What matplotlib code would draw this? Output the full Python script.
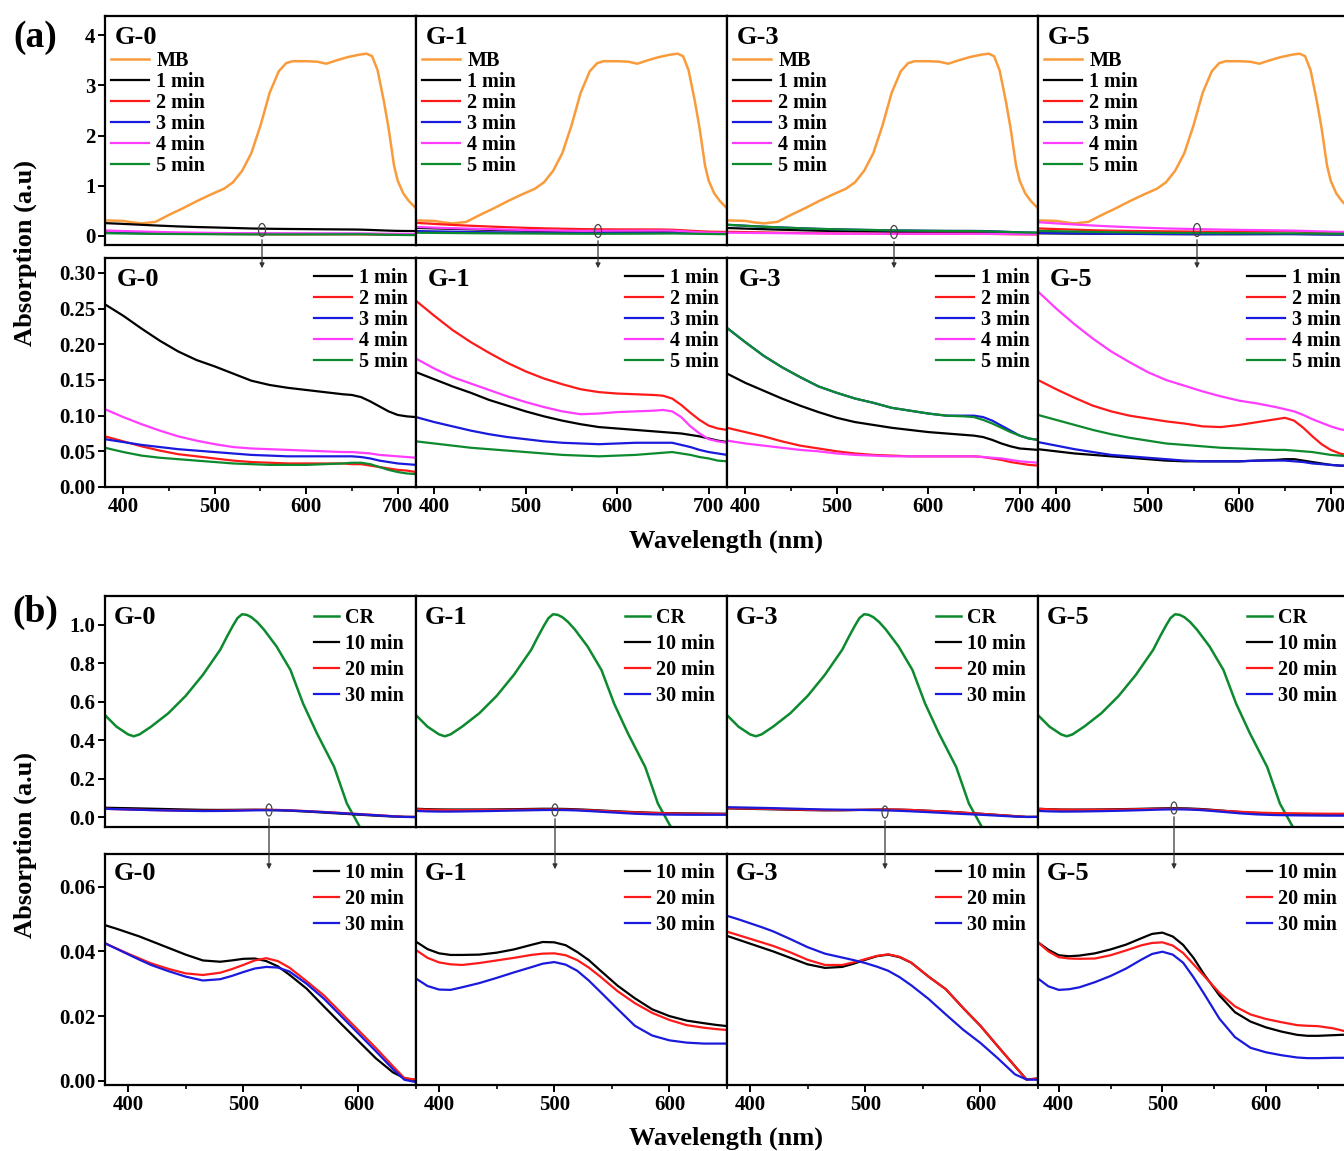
import matplotlib.pyplot as plt
from matplotlib.patches import Ellipse
from matplotlib.ticker import FormatStrFormatter

plt.rcParams['font.family'] = 'Liberation Serif'
plt.rcParams['font.weight'] = 'bold'

# ---------------- data (a): MB degradation ----------------
samples = ['G-0', 'G-1', 'G-3', 'G-5']
a_labels = ['1 min', '2 min', '3 min', '4 min', '5 min']
b_labels = ['10 min', '20 min', '30 min']

wl_mb = [380, 400, 410, 420, 435, 450, 465, 480, 495, 510, 520, 530, 540, 550, 560, 570, 578, 585,
         600, 612, 622, 632, 645, 658, 666, 672, 678, 685, 690, 696, 700, 706, 712, 720]
mb = [0.31, 0.30, 0.27, 0.25, 0.28, 0.42, 0.55, 0.69, 0.82, 0.94, 1.07, 1.30, 1.65, 2.20, 2.85, 3.28, 3.44, 3.48,
      3.48, 3.47, 3.43, 3.49, 3.56, 3.61, 3.63, 3.58, 3.30, 2.67, 2.15, 1.40, 1.10, 0.85, 0.70, 0.55]

wl_a = [380, 400, 420, 440, 460, 480, 500, 520, 540, 560, 580, 600, 620, 640, 650, 660, 670, 680, 690, 700, 710, 720]

a_g0 = [
    [.256, .240, .222, .205, .190, .178, .169, .159, .149, .143, .139, .136, .133, .130, .129, .126, .120, .113, .106, .101, .099, .098],
    [.071, .064, .057, .051, .046, .043, .040, .037, .035, .034, .033, .033, .033, .033, .032, .032, .030, .028, .026, .024, .023, .021],
    [.067, .063, .059, .056, .053, .051, .049, .047, .045, .044, .043, .043, .043, .043, .043, .042, .040, .037, .035, .033, .032, .031],
    [.109, .098, .088, .079, .071, .065, .060, .056, .054, .053, .052, .051, .050, .049, .049, .048, .047, .045, .044, .043, .042, .041],
    [.055, .049, .044, .041, .039, .037, .035, .033, .032, .031, .031, .031, .032, .033, .034, .034, .032, .028, .024, .021, .019, .018],
]
a_g1 = [
    [.161, .151, .141, .132, .122, .114, .106, .099, .093, .088, .084, .082, .080, .078, .077, .076, .075, .073, .071, .068, .065, .063],
    [.261, .240, .220, .203, .188, .174, .162, .152, .144, .137, .133, .131, .130, .129, .128, .124, .115, .104, .094, .086, .082, .080],
    [.098, .091, .085, .079, .074, .070, .067, .064, .062, .061, .060, .061, .062, .062, .062, .062, .059, .056, .052, .049, .047, .045],
    [.180, .166, .154, .145, .136, .127, .119, .112, .106, .102, .103, .105, .106, .107, .108, .106, .098, .085, .075, .067, .064, .062],
    [.064, .061, .058, .055, .053, .051, .049, .047, .045, .044, .043, .044, .045, .047, .048, .049, .047, .045, .042, .040, .037, .036],
]
a_g3 = [
    [.159, .146, .135, .124, .114, .105, .097, .091, .087, .083, .080, .077, .075, .073, .072, .070, .066, .061, .057, .054, .053, .052],
    [.083, .077, .071, .064, .058, .054, .050, .047, .045, .044, .043, .043, .043, .043, .043, .042, .040, .038, .035, .033, .031, .030],
    [.223, .203, .184, .168, .154, .141, .132, .124, .118, .111, .107, .103, .100, .100, .100, .098, .093, .086, .079, .072, .068, .066],
    [.065, .061, .058, .055, .052, .050, .047, .045, .044, .043, .043, .043, .043, .043, .043, .042, .041, .040, .038, .036, .035, .034],
    [.223, .203, .184, .168, .154, .141, .132, .124, .118, .111, .107, .103, .100, .099, .098, .094, .089, .083, .077, .072, .068, .066],
]
a_g5 = [
    [.053, .050, .047, .045, .043, .041, .039, .037, .036, .036, .036, .036, .037, .038, .039, .039, .037, .035, .033, .031, .030, .030],
    [.150, .137, .125, .114, .106, .100, .096, .092, .089, .085, .084, .087, .091, .095, .097, .093, .083, .071, .060, .052, .047, .044],
    [.063, .058, .053, .049, .045, .043, .041, .039, .037, .036, .036, .036, .037, .037, .037, .036, .035, .033, .032, .031, .030, .029],
    [.274, .250, .228, .208, .190, .175, .161, .150, .142, .134, .127, .121, .117, .112, .109, .106, .101, .095, .090, .085, .081, .079],
    [.101, .094, .087, .080, .074, .069, .065, .061, .059, .057, .055, .054, .053, .052, .052, .051, .050, .049, .047, .045, .044, .043],
]

# ---------------- data (b): CR degradation ----------------
wl_cr = [380, 390, 400, 405, 410, 420, 435, 450, 465, 480, 486, 491, 495, 499, 503, 507, 512, 518, 529, 541, 552,
         564, 579, 590, 602]
cr = [0.53, 0.47, 0.43, 0.42, 0.43, 0.47, 0.54, 0.63, 0.74, 0.87, 0.94, 0.995, 1.035, 1.055, 1.052, 1.04, 1.015,
      0.975, 0.887, 0.765, 0.59, 0.435, 0.26, 0.07, -0.06]

wl_b = [380, 390, 400, 410, 420, 435, 450, 465, 480, 490, 500, 510, 520, 530, 540, 555, 570, 585, 600, 615, 630, 640, 650]
wl_b5 = wl_b + [665, 680]

b_g0 = [
    [.0481, .0470, .0458, .0446, .0432, .0411, .0390, .0372, .0368, .0372, .0377, .0378, .0370, .0354, .0328, .0285, .0230, .0176, .0123, .0070, .0026, .0008, .0002],
    [.0425, .0409, .0393, .0378, .0363, .0346, .0332, .0327, .0334, .0345, .0358, .0372, .0379, .0370, .0350, .0308, .0264, .0210, .0156, .0102, .0045, .0008, .0004],
    [.0425, .0408, .0391, .0374, .0358, .0339, .0322, .0310, .0314, .0324, .0336, .0347, .0352, .0350, .0338, .0300, .0254, .0200, .0146, .0092, .0036, .0003, -.0004],
]
b_g1 = [
    [.0430, .0407, .0394, .0389, .0389, .0390, .0396, .0406, .0420, .0429, .0428, .0419, .0398, .0373, .0341, .0294, .0255, .0221, .0200, .0186, .0178, .0173, .0169],
    [.0404, .0380, .0366, .0360, .0358, .0364, .0372, .0380, .0389, .0393, .0394, .0388, .0373, .0350, .0322, .0277, .0240, .0210, .0188, .0172, .0164, .0160, .0157],
    [.0316, .0293, .0282, .0281, .0289, .0302, .0318, .0335, .0351, .0362, .0367, .0359, .0340, .0310, .0275, .0222, .0170, .0140, .0125, .0118, .0115, .0115, .0115],
]
b_g3 = [
    [.0448, .0436, .0424, .0412, .0400, .0380, .0360, .0349, .0352, .0362, .0374, .0385, .0390, .0382, .0365, .0322, .0283, .0225, .0170, .0107, .0045, .0004, .0007],
    [.0461, .0450, .0439, .0428, .0417, .0397, .0374, .0358, .0358, .0366, .0376, .0386, .0391, .0383, .0365, .0322, .0283, .0225, .0170, .0107, .0045, .0004, .0007],
    [.0510, .0499, .0487, .0475, .0462, .0438, .0413, .0393, .0381, .0373, .0364, .0353, .0340, .0320, .0295, .0253, .0205, .0158, .0117, .0070, .0020, .0004, .0003],
]
b_g5 = [
    [.0428, .0405, .0388, .0385, .0387, .0394, .0406, .0421, .0441, .0454, .0458, .0446, .0420, .0380, .0330, .0264, .0212, .0183, .0165, .0152, .0142, .0139, .0139, .0141, .0143],
    [.0428, .0400, .0382, .0378, .0377, .0378, .0388, .0403, .0419, .0426, .0428, .0418, .0395, .0360, .0325, .0272, .0230, .0205, .0191, .0181, .0172, .0170, .0169, .0162, .0150],
    [.0316, .0292, .0281, .0283, .0289, .0305, .0324, .0347, .0375, .0392, .0399, .0390, .0365, .0320, .0270, .0192, .0135, .0102, .0088, .0079, .0072, .0070, .0070, .0071, .0071],
]

a_data = [a_g0, a_g1, a_g3, a_g5]
b_data = [b_g0, b_g1, b_g3, b_g5]
b_wls = [wl_b, wl_b, wl_b, wl_b5]

a_colors = ['black', '#ff1a1a', '#1a1adc', '#ff3cff', '#0d8a2e']
b_colors = ['black', '#ff1a1a', '#1a1adc']
mb_color = '#f99b3b'
cr_color = '#0d8a2e'

W, H = 1344, 1151
fig = plt.figure(figsize=(W / 100, H / 100), dpi=100)

cols = [105, 416, 727, 1038, 1349]
rows = [(16, 245), (258, 487), (596, 827), (854, 1085)]


def add_ax(l, t, r, b):
    return fig.add_axes([l / W, 1 - b / H, (r - l) / W, (b - t) / H])


def style(ax, col, xticks, xlim):
    for s in ax.spines.values():
        s.set_linewidth(1.6)
    ax.tick_params(direction='out', length=5, width=1.4, labelsize=15, pad=2)
    ax.tick_params(which='minor', direction='out', length=3, width=1.2)
    if col > 0:
        ax.tick_params(axis='y', left=False, labelleft=False)
    if not xticks:
        ax.tick_params(axis='x', bottom=False, labelbottom=False)
    else:
        ax.set_xticks([400, 500, 600, 700])
        ax.set_xticks([450, 550, 650], minor=True)
    ax.set_xlim(*xlim)


def rel(ax_px, dx, dy):
    l, t, r, b = ax_px
    return dx / (r - l), 1 - dy / (b - t)


leg_font = {'weight': 'bold', 'size': 14.5}

for j, name in enumerate(samples):
    l, r = cols[j], cols[j + 1]

    # (a) full spectra
    t, b = rows[0]
    ax = add_ax(l, t, r, b)
    ax.plot(wl_mb, mb, color=mb_color, lw=1.8, label='MB')
    for k in range(5):
        ax.plot(wl_a, a_data[j][k], color=a_colors[k], lw=1.6, label=a_labels[k])
    ax.set_ylim(-0.18, 4.38)
    ax.set_yticks([0, 1, 2, 3, 4])
    style(ax, j, False, (380, 720))
    ax.text(*rel((l, t, r, b), 10, 10), name, transform=ax.transAxes, fontsize=19, va='top', ha='left')
    ax.legend(loc='upper left', bbox_to_anchor=rel((l, t, r, b), 6, 35), prop=leg_font, frameon=False,
              handlelength=1.9, handletextpad=0.35, labelspacing=0.05, borderpad=0, borderaxespad=0)

    # (a) zoomed spectra
    t, b = rows[1]
    ax = add_ax(l, t, r, b)
    for k in range(5):
        ax.plot(wl_a, a_data[j][k], color=a_colors[k], lw=1.6, label=a_labels[k])
    ax.set_ylim(0, 0.321)
    ax.set_yticks([0, 0.05, 0.10, 0.15, 0.20, 0.25, 0.30])
    ax.yaxis.set_major_formatter(FormatStrFormatter('%.2f'))
    style(ax, j, True, (380, 720))
    ax.text(*rel((l, t, r, b), 12, 10), name, transform=ax.transAxes, fontsize=19, va='top', ha='left')
    ax.legend(loc='upper right', bbox_to_anchor=rel((l, t, r, b), 311 - 8, 10), prop=leg_font, frameon=False,
              handlelength=1.9, handletextpad=0.35, labelspacing=0.05, borderpad=0, borderaxespad=0)

    # (b) full spectra
    t, b = rows[2]
    ax = add_ax(l, t, r, b)
    ax.plot(wl_cr, cr, color=cr_color, lw=1.8, label='CR')
    for k in range(3):
        ax.plot(b_wls[j], b_data[j][k], color=b_colors[k], lw=1.6, label=b_labels[k])
    ax.set_ylim(-0.052, 1.15)
    ax.set_yticks([0, 0.2, 0.4, 0.6, 0.8, 1.0])
    ax.yaxis.set_major_formatter(FormatStrFormatter('%.1f'))
    style(ax, j, False, (380, 650))
    ax.text(*rel((l, t, r, b), 9, 10), name, transform=ax.transAxes, fontsize=19, va='top', ha='left')
    ax.legend(loc='upper right', bbox_to_anchor=rel((l, t, r, b), 311 - 12, 12), prop=leg_font, frameon=False,
              handlelength=1.25, handletextpad=0.3, labelspacing=0.3, borderpad=0, borderaxespad=0)

    # (b) zoomed spectra
    t, b = rows[3]
    ax = add_ax(l, t, r, b)
    for k in range(3):
        ax.plot(b_wls[j], b_data[j][k], color=b_colors[k], lw=1.6, label=b_labels[k])
    ax.set_ylim(-0.0013, 0.0701)
    ax.set_yticks([0, 0.02, 0.04, 0.06])
    ax.yaxis.set_major_formatter(FormatStrFormatter('%.2f'))
    style(ax, j, True, (380, 680) if j == 3 else (380, 650))
    ax.text(*rel((l, t, r, b), 9, 8), name, transform=ax.transAxes, fontsize=19, va='top', ha='left')
    ax.legend(loc='upper right', bbox_to_anchor=rel((l, t, r, b), 311 - 12, 9), prop=leg_font, frameon=False,
              handlelength=1.25, handletextpad=0.3, labelspacing=0.3, borderpad=0, borderaxespad=0)

# overlay in pixel coordinates for labels, markers and arrows
ov = fig.add_axes([0, 0, 1, 1], zorder=10)
ov.set_xlim(0, W)
ov.set_ylim(H, 0)
ov.axis('off')
ov.patch.set_alpha(0)

for x, y in [(262, 230), (598, 231), (894, 232), (1197, 230)]:
    ov.add_patch(Ellipse((x, y), 7, 13, fill=False, ec='#444444', lw=0.9))
    ov.annotate('', xy=(x, 271), xytext=(x, y + 7),
                arrowprops=dict(arrowstyle='-|>', color='#333333', lw=0.9, mutation_scale=7))
for x, y in [(269, 810), (555, 810), (885, 812), (1174, 808)]:
    ov.add_patch(Ellipse((x, y), 6, 12, fill=False, ec='#444444', lw=0.9))
    ov.annotate('', xy=(x, 872), xytext=(x, y + 6),
                arrowprops=dict(arrowstyle='-|>', color='#333333', lw=0.9, mutation_scale=7))

ov.text(35, 37, '(a)', fontsize=27, ha='center', va='center')
ov.text(35, 612, '(b)', fontsize=27, ha='center', va='center')
ov.text(25, 253, 'Absorption (a.u)', fontsize=19, rotation=90, ha='center', va='center')
ov.text(25, 845, 'Absorption (a.u)', fontsize=19, rotation=90, ha='center', va='center')
ov.text(726, 541, 'Wavelength (nm)', fontsize=19, ha='center', va='center')
ov.text(726, 1138, 'Wavelength (nm)', fontsize=19, ha='center', va='center')

fig.savefig('out.png', dpi=100)
